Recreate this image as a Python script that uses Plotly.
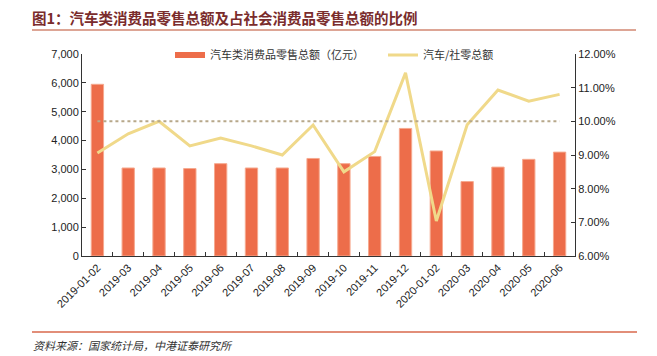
import plotly.graph_objects as go

categories = ["2019-01-02", "2019-03", "2019-04", "2019-05", "2019-06", "2019-07", "2019-08",
              "2019-09", "2019-10", "2019-11", "2019-12", "2020-01-02", "2020-03", "2020-04",
              "2020-05", "2020-06"]
auto_sales = [5950, 3050, 3050, 3030, 3200, 3050, 3050, 3380, 3200, 3450, 4420, 3640, 2580, 3080, 3350, 3600]
auto_share = [9.06, 9.63, 10.0, 9.27, 9.50, 9.27, 9.00, 9.89, 8.50, 9.10, 11.44, 7.04, 9.90, 10.93, 10.60, 10.80]
reference_level = [10.0] * len(categories)

left_ticks = [0, 1000, 2000, 3000, 4000, 5000, 6000, 7000]
right_ticks = [6, 7, 8, 9, 10, 11, 12]

# the page body adds an 8px margin, so layout is expressed in page pixels minus that offset
OFF = 8
W, H = 657 - OFF, 356 - OFF
L, R, T, B = 82 - OFF, 575 - OFF, 54 - OFF, 256 - OFF

def px(x):
    return (x - OFF - L) / (R - L)

def py(y):
    return (B - (y - OFF)) / (B - T)

BAR_COLOR = "#ED6D4A"
LINE_COLOR = "#F0D98A"

fig = go.Figure()
fig.add_trace(go.Bar(
    x=categories, y=auto_sales, name="汽车类消费品零售总额（亿元）", showlegend=False,
    marker=dict(color=BAR_COLOR, line=dict(color="#F6A98F", width=1)),
    yaxis="y",
))
# legend-only entry so that the bar key is drawn as a wide band
fig.add_trace(go.Scatter(
    x=[None], y=[None], name="汽车类消费品零售总额（亿元）", mode="lines",
    line=dict(color=BAR_COLOR, width=6), yaxis="y",
))
fig.add_trace(go.Scatter(
    x=categories, y=auto_share, name="汽车/社零总额", mode="lines",
    line=dict(color=LINE_COLOR, width=3), yaxis="y2",
))
fig.add_trace(go.Scatter(
    x=categories, y=reference_level, mode="lines", showlegend=False,
    line=dict(color="#B7A88A", width=2, dash="dot"), yaxis="y2", hoverinfo="skip",
))

tickfont = dict(family="Liberation Sans, Arial, sans-serif", size=11, color="#222")

fig.update_layout(
    width=W, height=H,
    margin=dict(l=L, r=W - R, t=T, b=H - B, autoexpand=False),
    paper_bgcolor="white", plot_bgcolor="white",
    bargap=0.6,
    showlegend=True,
    legend=dict(orientation="h", x=px(170), y=py(55), xanchor="left", yanchor="middle",
                font=dict(family="Noto Sans CJK SC", size=11, color="#333"),
                bgcolor="rgba(0,0,0,0)", itemwidth=30, tracegroupgap=0,
                entrywidth=168, entrywidthmode="pixels"),
    xaxis=dict(
        type="category", tickangle=-45, tickfont=tickfont,
        showline=True, linecolor="#333", linewidth=1,
        ticks="inside", ticklen=4, tickcolor="#333", tickson="boundaries",
        showgrid=False, zeroline=False,
    ),
    yaxis=dict(
        range=[0, 7000], tickvals=left_ticks, tickformat=",d", tickfont=tickfont,
        showline=True, linecolor="#333", linewidth=1,
        ticks="inside", ticklen=4, tickcolor="#333",
        showgrid=False, zeroline=False,
    ),
    yaxis2=dict(
        overlaying="y", side="right", range=[6, 12], tickvals=right_ticks,
        ticktext=[f"{v:.2f}%" for v in right_ticks], tickfont=tickfont,
        showline=True, linecolor="#333", linewidth=1,
        ticks="inside", ticklen=4, tickcolor="#333",
        showgrid=False, zeroline=False,
    ),
    shapes=[
        dict(type="line", xref="paper", yref="paper", x0=px(32), x1=px(636), y0=py(30), y1=py(30),
             line=dict(color="#DDA595", width=2)),
        dict(type="line", xref="paper", yref="paper", x0=px(32), x1=px(637), y0=py(332), y1=py(332),
             line=dict(color="#D9694C", width=1.5)),
    ],
    annotations=[
        dict(text="<b>图1：汽车类消费品零售总额及占社会消费品零售总额的比例</b>", xref="paper", yref="paper",
             x=px(31), y=py(17.5), xanchor="left", yanchor="middle", showarrow=False, borderpad=0,
             font=dict(family="Noto Sans CJK SC", size=14.5, color="#7A2C2C")),
        dict(text="<i>资料来源：国家统计局，中港证泰研究所</i>", xref="paper", yref="paper",
             x=px(32), y=py(345), xanchor="left", yanchor="middle", showarrow=False, borderpad=0,
             font=dict(family="Noto Sans CJK SC", size=11, color="#333")),
    ],
)

fig.write_html("out.html")
